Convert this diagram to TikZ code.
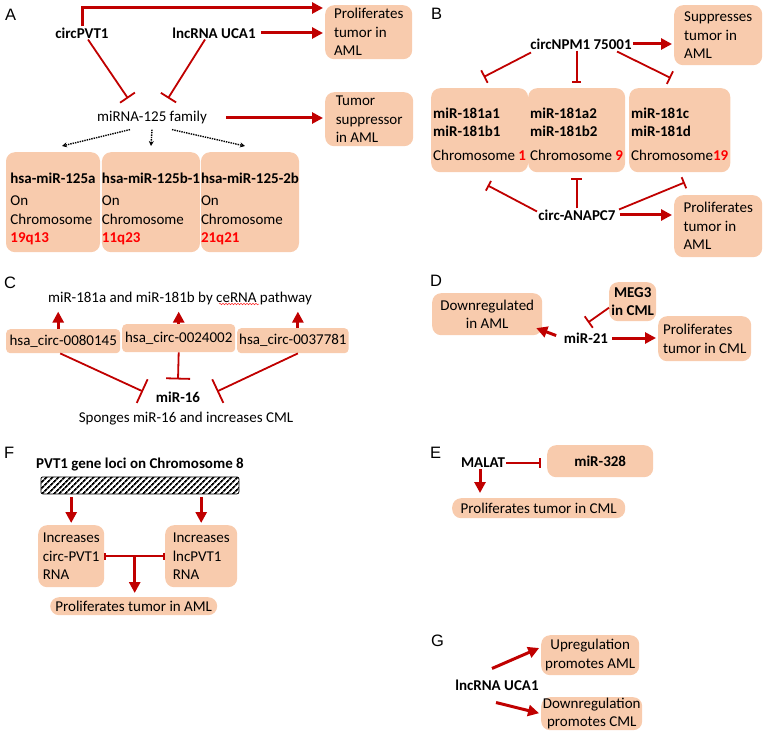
\documentclass[tikz,border=0pt]{standalone}
\usepackage{fontspec}
\setmainfont{Carlito}
\newfontfamily\labfont{Liberation Sans}
\usetikzlibrary{arrows.meta,patterns.meta,decorations.pathmorphing}
\definecolor{boxfill}{HTML}{F8CBAD}
\definecolor{arrowred}{HTML}{C00000}
\definecolor{chrred}{HTML}{FF0000}
\tikzset{
  box/.style={fill=boxfill, rounded corners=9pt, inner xsep=2pt, inner ysep=2pt, align=left, anchor=north west},
  lbl/.style={font=\labfont\fontsize{16.5}{17}\selectfont, anchor=north west, inner sep=0pt},
  gene/.style={font=\bfseries, inner sep=1pt},
  act/.style={draw=arrowred, line width=3pt, shorten >=2pt, -{Triangle[length=11pt,width=11pt]}},
  inh/.style={draw=arrowred, line width=1.8pt, -{Bar[width=#1]}},
  inh/.default=14pt,
  dotarrow/.style={densely dotted, line width=1.4pt, -{Stealth[length=5pt,width=5pt]}}
}
\begin{document}
\begin{tikzpicture}[x=1pt,y=-1pt]
\fontsize{15}{18.5}\selectfont
\useasboundingbox (0,0) rectangle (768,738);
% panel A
\node[lbl] (labA) at (5,9) {A};
\node[gene] (circA) at (82,33) {circPVT1};
\node[gene] (ucaA) at (214,33) {lncRNA UCA1};
\node[box, minimum width=87, minimum height=54] (prolA) at (325,5) {Proliferates\\tumor in\\AML};
\node (famA) at (152,118) {miRNA-125 family};
\node[box, minimum width=88, minimum height=54] (supA) at (325,92) {Tumor\\suppressor\\in AML};
\node[box, anchor=north, inner xsep=0pt, minimum width=94, minimum height=100] (hsa1) at (53,152)
  {\rule{0pt}{24pt}\textbf{hsa-miR-125a}\\[4pt]On\\Chromosome\\\textcolor{chrred}{\textbf{19q13}}};
\node[box, anchor=north, inner xsep=0pt, minimum width=96, minimum height=100] (hsa2) at (151,152)
  {\rule{0pt}{24pt}\textbf{hsa-miR-125b-1}\\[4pt]On\\Chromosome\\\textcolor{chrred}{\textbf{11q23}}};
\node[box, anchor=north, inner xsep=0pt, minimum width=96, minimum height=100] (hsa3) at (250,152)
  {\rule{0pt}{24pt}\textbf{hsa-miR-125-2b}\\[4pt]On\\Chromosome\\\textcolor{chrred}{\textbf{21q21}}};
\draw[act] (circA.north) |- ([yshift=-3pt]prolA.north west);
\draw[act, shorten <=4pt] (ucaA.east) -- (ucaA.east -| prolA.west);
\draw[inh=18pt] ([xshift=6pt]circA.south) -- ([xshift=-24pt,yshift=8pt]famA.north);
\draw[inh=18pt] ([xshift=-9pt]ucaA.south) -- ([xshift=16pt,yshift=8pt]famA.north);
\draw[act, shorten <=14pt] (famA.east) -- (famA.east -| supA.west);
\draw[dotarrow] ([xshift=-22pt]famA.south) -- ([xshift=9pt,yshift=6pt]hsa1.north);
\draw[dotarrow] (famA.south) -- ([yshift=6pt]hsa2.north);
\draw[dotarrow] ([xshift=20pt]famA.south) -- ([xshift=-5pt,yshift=6pt]hsa3.north);
% panel B
\node[lbl] (labB) at (431,8) {B};
\node[gene] (npm) at (581,44) {circNPM1 75001};
\node[box, minimum width=88, minimum height=60] (supB) at (674,5) {Suppresses\\tumor in\\AML};
\node[box, minimum width=95, minimum height=84] (mir1) at (431,88)
  {\rule{0pt}{18pt}\textbf{miR-181a1}\\\textbf{miR-181b1}\\[5pt]Chromosome \textcolor{chrred}{\textbf{1}}};
\node[box, minimum width=96, minimum height=84] (mir2) at (528,88)
  {\rule{0pt}{18pt}\textbf{miR-181a2}\\\textbf{miR-181b2}\\[5pt]Chromosome \textcolor{chrred}{\textbf{9}}};
\node[box, minimum width=94, minimum height=84] (mir3) at (629,88)
  {\rule{0pt}{18pt}\textbf{miR-181c}\\\textbf{miR-181d}\\[5pt]Chromosome\textcolor{chrred}{\textbf{19}}};
\node[gene] (anapc) at (577,215) {circ-ANAPC7};
\node[box, minimum width=88, minimum height=62] (prolB) at (674,195) {Proliferates\\tumor in\\AML};
\draw[act] (npm.east) -- (npm.east -| supB.west);
\draw[inh] ([xshift=-50pt,yshift=-2pt]npm.south) -- ([xshift=4pt,yshift=11pt]mir1.north);
\draw[inh=9pt] (mir2.north |- npm.south) -- ([yshift=5pt]mir2.north);
\draw[inh] ([xshift=36pt,yshift=-1pt]npm.south) -- ([xshift=-9pt,yshift=10pt]mir3.north);
\draw[inh=11pt] ([xshift=-40pt,yshift=-3pt]anapc.north) -- ([xshift=8pt,yshift=-13pt]mir1.south);
\draw[inh=11pt] (mir2.south |- anapc.north) -- ([yshift=-6pt]mir2.south);
\draw[inh=12pt] ([xshift=42pt,yshift=-1pt]anapc.north) -- ([xshift=5pt,yshift=-10pt]mir3.south);
\draw[act, shorten <=3pt] (anapc.east) -- (anapc.east -| prolB.west);
% panel C
\node[lbl] (labC) at (4,277) {C};
\node (ceA) at (180,298) {miR-181a and miR-181b by ceRNA pathway};
\draw[red!85, line width=0.5pt, decorate, decoration={snake, amplitude=0.8pt, segment length=3pt}]
  ([xshift=-98pt,yshift=-2pt]ceA.base east) -- ([xshift=-58pt,yshift=-2pt]ceA.base east);
\node[box, rounded corners=4pt, minimum width=114, minimum height=24] (hc1) at (6,329) {hsa\_circ-0080145};
\node[box, rounded corners=4pt, minimum width=113, minimum height=28] (hc2) at (122,324) {hsa\_circ-0024002};
\node[box, rounded corners=4pt, minimum width=110, minimum height=25] (hc3) at (237,328) {hsa\_circ-0037781};
\node[gene] (m16) at (178,397) {miR-16};
\node (spA) at (186,419) {Sponges miR-16 and increases CML};
\draw[act] ([xshift=-5pt]hc1.north) -- ([xshift=-5pt]hc1.north |- ceA.south);
\draw[act] (hc2.north) -- (hc2.north |- ceA.south);
\draw[act] ([xshift=5pt]hc3.north) -- ([xshift=5pt]hc3.north |- ceA.south);
\draw[inh=26pt] ([xshift=-3pt]hc1.south) -- ([xshift=-35pt,yshift=-1pt]m16.north);
\draw[inh=24pt] (hc2.south) -- ([yshift=11pt]m16.north);
\draw[inh=26pt] ([xshift=5pt]hc3.south) -- ([xshift=39pt,yshift=-1pt]m16.north);
% panel D
\node[lbl] (labD) at (430,275) {D};
\node[box, align=center, minimum width=110, minimum height=42] (down) at (432,293) {Downregulated\\in AML};
\node[box, font=\bfseries, align=center, inner ysep=1pt, minimum width=47, minimum height=39] (meg) at (609,282) {MEG3\\in CML};
\node[gene] (mir21) at (586,338) {miR-21};
\node[box, minimum width=93, minimum height=45] (prolD) at (658,316) {Proliferates\\tumor in CML};
\draw[act, shorten <=7pt] (mir21.west) -- ([xshift=-8pt,yshift=8pt]down.south east);
\draw[inh] ([yshift=-6pt]meg.west) -- ([xshift=2pt,yshift=9pt]mir21.north);
\draw[act, shorten <=3pt] (mir21.east) -- (mir21.east -| prolD.west);
% panel E
\node[lbl] (labE) at (430,447) {E};
\node[gene] (malat) at (483,463) {MALAT};
\node[box, font=\bfseries, align=center, minimum width=106, minimum height=32] (m328) at (547,445) {miR-328};
\node[box, align=center, minimum width=173, minimum height=20] (prolE) at (452,498) {Proliferates tumor in CML};
\draw[inh=10pt, shorten >=6pt] (malat.east) -- (malat.east -| m328.west);
\draw[act] ([xshift=-3pt]malat.south) -- ([xshift=-3pt,yshift=3pt]malat.south |- prolE.north);
% panel F
\node[lbl] (labF) at (4,447) {F};
\node[gene] (pvt) at (140,465) {PVT1 gene loci on Chromosome 8};
\node[draw, line width=0.8pt, rounded corners=2pt, pattern={Lines[angle=45,distance=4pt,line width=1.8pt]},
  minimum width=198, minimum height=17, anchor=north west] (loci) at (40,476) {};
\node[box, minimum width=66, minimum height=62] (circF) at (38,525) {Increases\\circ-PVT1\\RNA};
\node[box, minimum width=72, minimum height=62] (lncF) at (165,525) {Increases\\lncPVT1\\RNA};
\node[box, align=center, minimum width=167, minimum height=18] (prolF) at (50,597) {Proliferates tumor in AML};
\draw[act, shorten <=2pt] (circF.north |- loci.south) -- (circF.north);
\draw[act, shorten <=2pt] (lncF.north |- loci.south) -- (lncF.north);
\draw[draw=arrowred, line width=1.6pt, {Bar[width=7pt]}-{Bar[width=7pt]}] (circF.east) -- (lncF.west)
  coordinate[midway] (midF);
\draw[act, shorten >=4pt] (midF) -- (midF |- prolF.north);
% panel G
\node[lbl] (labG) at (431,635) {G};
\node[gene] (ucaG) at (497,685) {lncRNA UCA1};
\node[box, align=center, inner xsep=1.5pt, minimum width=98, minimum height=40] (upG) at (541,635) {Upregulation\\promotes AML};
\node[box, align=center, inner xsep=1.5pt, inner ysep=0pt, minimum width=101, minimum height=33] (dnG) at (541,697) {Downregulation\\promotes CML};
\draw[act] ([xshift=-5pt,yshift=10pt]ucaG.north) -- ([yshift=8pt]upG.west);
\draw[act] ([xshift=-1pt,yshift=-11pt]ucaG.south) -- (dnG.west);
\end{tikzpicture}
\end{document}
